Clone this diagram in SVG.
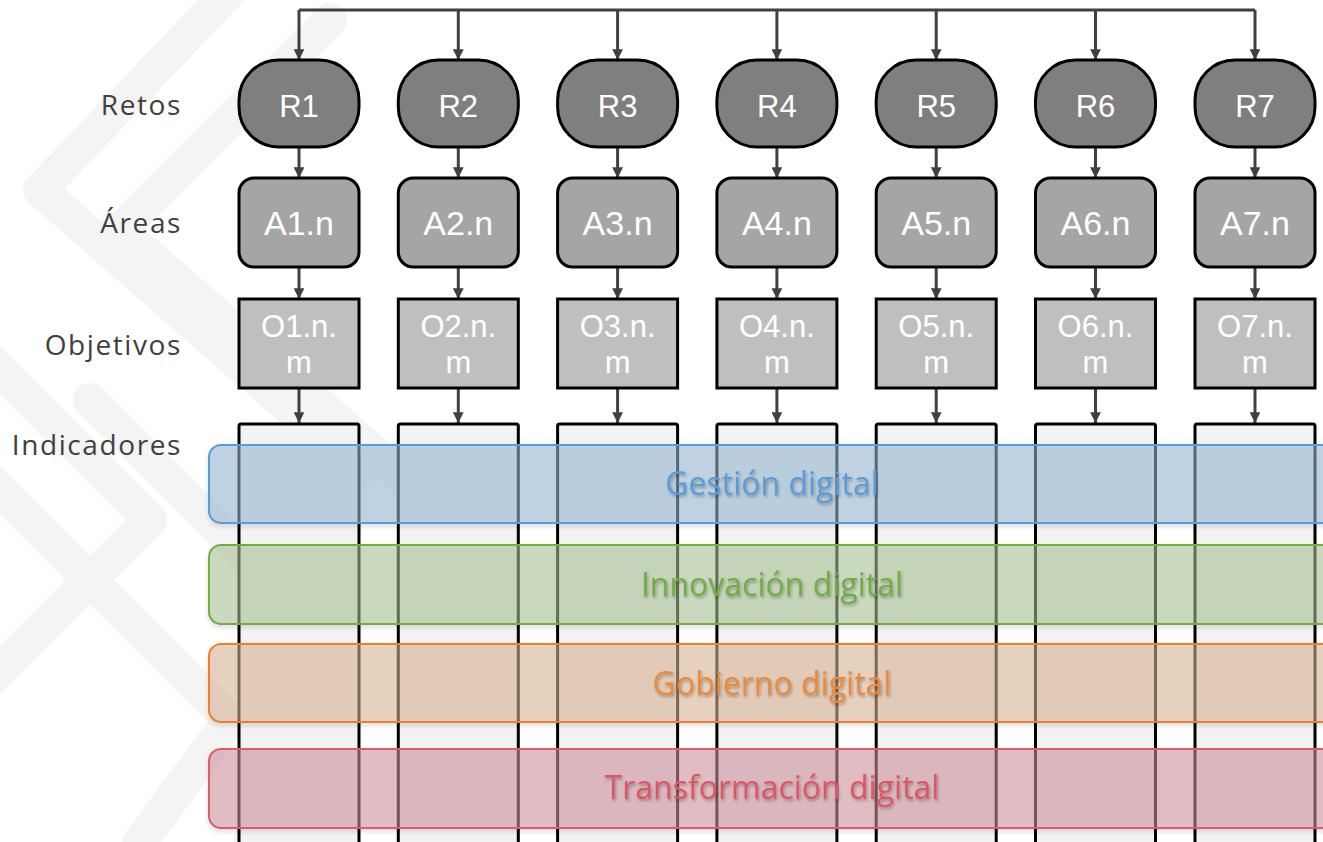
<svg xmlns="http://www.w3.org/2000/svg" width="1323" height="842" viewBox="0 0 1323 842">
<defs>
<style>
.lbl{font-family:"Open Sans","Liberation Sans",sans-serif;font-size:28px;letter-spacing:1.6px;fill:#404040;text-anchor:end}
.ntx{font-family:"Liberation Sans",Arial,sans-serif;fill:#ffffff;text-anchor:middle}
.r{fill:#7f7f7f;stroke:#000;stroke-width:3}
.a{fill:#a5a5a5;stroke:#000;stroke-width:3}
.o{fill:#bfbfbf;stroke:#000;stroke-width:3}
.ind{fill:#f2f2f2;stroke:#000;stroke-width:3}
.con{fill:none;stroke:#404040;stroke-width:3}
.band{stroke-width:2;fill-opacity:0.55}
.btx{font-family:"Open Sans","Liberation Sans",sans-serif;font-size:32px;font-weight:500;text-anchor:middle;filter:url(#ts)}
.wm{fill:none;stroke:#f4f4f4;stroke-width:34;stroke-linejoin:round;stroke-linecap:round}
</style>
<marker id="ah" viewBox="0 0 10 10" refX="10" refY="5" markerWidth="3.6" markerHeight="3.6" orient="auto" markerUnits="strokeWidth">
<path d="M0,0 L10,5 L0,10 z" fill="#404040"/>
</marker>
<filter id="ts" x="-10%" y="-30%" width="120%" height="160%">
<feDropShadow dx="1" dy="2" stdDeviation="1.5" flood-color="#000" flood-opacity="0.3"/>
</filter>
<filter id="bs" x="-5%" y="-20%" width="110%" height="150%">
<feDropShadow dx="0" dy="3" stdDeviation="2" flood-color="#000" flood-opacity="0.15"/>
</filter>
</defs>
<rect width="1323" height="842" fill="#ffffff"/>
<g id="watermark">
<path class="wm" d="M250,-30 L40,190 L360,470"/>
<path class="wm" d="M330,20 L120,230 L440,510"/>
<path class="wm" d="M-20,350 L150,520 L-20,690"/>
<path class="wm" d="M-20,470 L230,720 L140,842"/>
<path class="wm" d="M90,400 L330,640 L250,842"/>
</g>
<g id="labels">
<text class="lbl" x="182" y="115">Retos</text>
<text class="lbl" x="182" y="233">Áreas</text>
<text class="lbl" x="182" y="355">Objetivos</text>
<text class="lbl" x="182" y="455">Indicadores</text>
</g>
<g id="connectors">
<path class="con" d="M299,10 H1255"/>
<path class="con" marker-end="url(#ah)" d="M299,10 V60"/>
<path class="con" marker-end="url(#ah)" d="M458.3,10 V60"/>
<path class="con" marker-end="url(#ah)" d="M617.6,10 V60"/>
<path class="con" marker-end="url(#ah)" d="M776.9,10 V60"/>
<path class="con" marker-end="url(#ah)" d="M936.2,10 V60"/>
<path class="con" marker-end="url(#ah)" d="M1095.5,10 V60"/>
<path class="con" marker-end="url(#ah)" d="M1255,10 V60"/>
<path class="con" marker-end="url(#ah)" d="M299,148 V178"/>
<path class="con" marker-end="url(#ah)" d="M458.3,148 V178"/>
<path class="con" marker-end="url(#ah)" d="M617.6,148 V178"/>
<path class="con" marker-end="url(#ah)" d="M776.9,148 V178"/>
<path class="con" marker-end="url(#ah)" d="M936.2,148 V178"/>
<path class="con" marker-end="url(#ah)" d="M1095.5,148 V178"/>
<path class="con" marker-end="url(#ah)" d="M1255,148 V178"/>
<path class="con" marker-end="url(#ah)" d="M299,268 V299"/>
<path class="con" marker-end="url(#ah)" d="M458.3,268 V299"/>
<path class="con" marker-end="url(#ah)" d="M617.6,268 V299"/>
<path class="con" marker-end="url(#ah)" d="M776.9,268 V299"/>
<path class="con" marker-end="url(#ah)" d="M936.2,268 V299"/>
<path class="con" marker-end="url(#ah)" d="M1095.5,268 V299"/>
<path class="con" marker-end="url(#ah)" d="M1255,268 V299"/>
<path class="con" marker-end="url(#ah)" d="M299,389 V423"/>
<path class="con" marker-end="url(#ah)" d="M458.3,389 V423"/>
<path class="con" marker-end="url(#ah)" d="M617.6,389 V423"/>
<path class="con" marker-end="url(#ah)" d="M776.9,389 V423"/>
<path class="con" marker-end="url(#ah)" d="M936.2,389 V423"/>
<path class="con" marker-end="url(#ah)" d="M1095.5,389 V423"/>
<path class="con" marker-end="url(#ah)" d="M1255,389 V423"/>
</g>
<g id="R1"><rect class="r" x="239" y="60" width="120" height="87" rx="40" ry="40"/><text class="ntx" x="299" y="117" font-size="31">R1</text></g>
<g id="R2"><rect class="r" x="398.3" y="60" width="120" height="87" rx="40" ry="40"/><text class="ntx" x="458.3" y="117" font-size="31">R2</text></g>
<g id="R3"><rect class="r" x="557.6" y="60" width="120" height="87" rx="40" ry="40"/><text class="ntx" x="617.6" y="117" font-size="31">R3</text></g>
<g id="R4"><rect class="r" x="716.9" y="60" width="120" height="87" rx="40" ry="40"/><text class="ntx" x="776.9" y="117" font-size="31">R4</text></g>
<g id="R5"><rect class="r" x="876.2" y="60" width="120" height="87" rx="40" ry="40"/><text class="ntx" x="936.2" y="117" font-size="31">R5</text></g>
<g id="R6"><rect class="r" x="1035.5" y="60" width="120" height="87" rx="40" ry="40"/><text class="ntx" x="1095.5" y="117" font-size="31">R6</text></g>
<g id="R7"><rect class="r" x="1195" y="60" width="120" height="87" rx="40" ry="40"/><text class="ntx" x="1255" y="117" font-size="31">R7</text></g>
<g id="A1"><rect class="a" x="239" y="178" width="120" height="89" rx="15"/><text class="ntx" x="299" y="235" font-size="34">A1.n</text></g>
<g id="A2"><rect class="a" x="398.3" y="178" width="120" height="89" rx="15"/><text class="ntx" x="458.3" y="235" font-size="34">A2.n</text></g>
<g id="A3"><rect class="a" x="557.6" y="178" width="120" height="89" rx="15"/><text class="ntx" x="617.6" y="235" font-size="34">A3.n</text></g>
<g id="A4"><rect class="a" x="716.9" y="178" width="120" height="89" rx="15"/><text class="ntx" x="776.9" y="235" font-size="34">A4.n</text></g>
<g id="A5"><rect class="a" x="876.2" y="178" width="120" height="89" rx="15"/><text class="ntx" x="936.2" y="235" font-size="34">A5.n</text></g>
<g id="A6"><rect class="a" x="1035.5" y="178" width="120" height="89" rx="15"/><text class="ntx" x="1095.5" y="235" font-size="34">A6.n</text></g>
<g id="A7"><rect class="a" x="1195" y="178" width="120" height="89" rx="15"/><text class="ntx" x="1255" y="235" font-size="34">A7.n</text></g>
<g id="O1"><rect class="o" x="239" y="299" width="120" height="89"/><text class="ntx" x="299" y="337" font-size="31">O1.n.</text><text class="ntx" x="299" y="373" font-size="31">m</text></g>
<g id="O2"><rect class="o" x="398.3" y="299" width="120" height="89"/><text class="ntx" x="458.3" y="337" font-size="31">O2.n.</text><text class="ntx" x="458.3" y="373" font-size="31">m</text></g>
<g id="O3"><rect class="o" x="557.6" y="299" width="120" height="89"/><text class="ntx" x="617.6" y="337" font-size="31">O3.n.</text><text class="ntx" x="617.6" y="373" font-size="31">m</text></g>
<g id="O4"><rect class="o" x="716.9" y="299" width="120" height="89"/><text class="ntx" x="776.9" y="337" font-size="31">O4.n.</text><text class="ntx" x="776.9" y="373" font-size="31">m</text></g>
<g id="O5"><rect class="o" x="876.2" y="299" width="120" height="89"/><text class="ntx" x="936.2" y="337" font-size="31">O5.n.</text><text class="ntx" x="936.2" y="373" font-size="31">m</text></g>
<g id="O6"><rect class="o" x="1035.5" y="299" width="120" height="89"/><text class="ntx" x="1095.5" y="337" font-size="31">O6.n.</text><text class="ntx" x="1095.5" y="373" font-size="31">m</text></g>
<g id="O7"><rect class="o" x="1195" y="299" width="120" height="89"/><text class="ntx" x="1255" y="337" font-size="31">O7.n.</text><text class="ntx" x="1255" y="373" font-size="31">m</text></g>
<g id="I1"><rect class="ind" x="239" y="424" width="120" height="440" rx="2"/></g>
<g id="I2"><rect class="ind" x="398.3" y="424" width="120" height="440" rx="2"/></g>
<g id="I3"><rect class="ind" x="557.6" y="424" width="120" height="440" rx="2"/></g>
<g id="I4"><rect class="ind" x="716.9" y="424" width="120" height="440" rx="2"/></g>
<g id="I5"><rect class="ind" x="876.2" y="424" width="120" height="440" rx="2"/></g>
<g id="I6"><rect class="ind" x="1035.5" y="424" width="120" height="440" rx="2"/></g>
<g id="I7"><rect class="ind" x="1195" y="424" width="120" height="440" rx="2"/></g>
<g id="gestion"><rect class="band" x="209" y="445" width="1140" height="78" rx="12" fill="#97b8d2" stroke="#5b9bd5" filter="url(#bs)"/><text class="btx" x="772" y="495" fill="#5b9bd5">Gestión digital</text></g>
<g id="innovacion"><rect class="band" x="209" y="545" width="1140" height="79" rx="12" fill="#aac394" stroke="#70ad47" filter="url(#bs)"/><text class="btx" x="772" y="596" fill="#70ad47">Innovación digital</text></g>
<g id="gobierno"><rect class="band" x="209" y="644" width="1140" height="78" rx="12" fill="#dbb394" stroke="#ed7d31" filter="url(#bs)"/><text class="btx" x="772" y="695" fill="#ea8a3c">Gobierno digital</text></g>
<g id="transformacion"><rect class="band" x="209" y="749" width="1140" height="79" rx="12" fill="#ce929b" stroke="#e05a6a" filter="url(#bs)"/><text class="btx" x="772" y="799" fill="#e05566">Transformación digital</text></g>
</svg>
